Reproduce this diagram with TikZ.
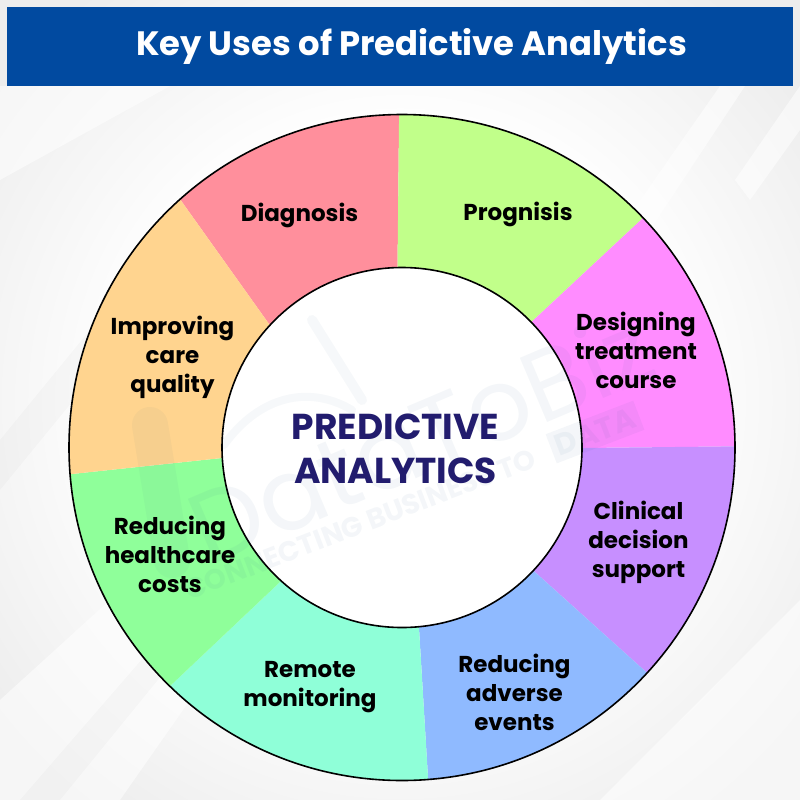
\documentclass[tikz,border=0pt]{standalone}
\usepackage{fontspec}
\setmainfont{Poppins}
\usetikzlibrary{calc}
\definecolor{banner}{HTML}{014AA0}
\definecolor{navy}{HTML}{221C6E}
\definecolor{sPink}{HTML}{FF8F9C}
\definecolor{sLime}{HTML}{C1FF8A}
\definecolor{sMag}{HTML}{FF8CFF}
\definecolor{sPur}{HTML}{C78FFF}
\definecolor{sBlue}{HTML}{8FBAFF}
\definecolor{sAqua}{HTML}{8FFFD8}
\definecolor{sGreen}{HTML}{8FFF9A}
\definecolor{sOrange}{HTML}{FFD48F}
\definecolor{bgGray}{HTML}{EDEDED}
\definecolor{markBlue}{HTML}{2A5A8A}
\pgfdeclareradialshading{softbg}{\pgfpoint{0bp}{0bp}}{color(0bp)=(white); color(17bp)=(white); color(32bp)=(bgGray); color(50bp)=(bgGray)}
\tikzset{
  seglabel/.style={font=\fontsize{23}{29}\selectfont\bfseries,align=center,text=black,inner sep=0pt},
  lightstripe/.style={fill=white,opacity=.55},
  darkstripe/.style={fill=black,opacity=.018},
  mark text/.style={text=markBlue,opacity=.05,inner sep=0pt,rotate=21},
  mark shape/.style={draw=markBlue,opacity=.04,line cap=round},
}
% colour, angle A, angle B, inner point A, inner point B
\newcommand{\seg}[5]{\fill[#1] (#4) -- ($(402,447.5)+(#2:333 and -333)$) arc[start angle=-#2,end angle=-#3,radius=333] -- (#5) -- (402,447.5) -- cycle;}
\begin{document}
\begin{tikzpicture}[x=1pt,y=-1pt]
\useasboundingbox (0,0) rectangle (800,800);
% background
\fill[white] (0,0) rectangle (800,800);
\shade[shading=softbg] (0,0) rectangle (800,800);
\fill[darkstripe] (0,490) -- (0,440) -- (90,330) -- (90,380) -- cycle;
\fill[lightstripe] (0,180) -- (0,86) -- (170,86) -- cycle;
\fill[lightstripe] (720,86) -- (745,86) -- (650,230) -- (630,215) -- cycle;
\fill[lightstripe] (800,86) -- (800,130) -- (750,200) -- (735,180) -- cycle;
\fill[lightstripe] (0,800) -- (0,700) -- (110,600) -- (190,700) -- (120,800) -- cycle;
\fill[lightstripe] (800,600) -- (800,800) -- (600,800) -- cycle;
\fill[darkstripe] (20,800) -- (150,650) -- (170,665) -- (60,800) -- cycle;
% banner
\fill[banner] (7,7) rectangle (793,86);
\node[inner sep=0pt,text=white,font=\fontsize{33.8}{40}\selectfont\bfseries] (title) at (411.5,46) {Key Uses of Predictive Analytics};
% ring
\seg{sPink}{131.8}{90.5}{269,324}{397.5,268}
\seg{sLime}{90.5}{43.6}{397.5,268}{532,321.5}
\seg{sMag}{43.6}{0.2}{532,321.5}{583,448}
\seg{sPur}{0.2}{-42.6}{583,448}{536,573}
\seg{sBlue}{-42.6}{-85.5}{536,573}{419,628}
\seg{sAqua}{-85.5}{-134.2}{419,628}{279,583}
\seg{sGreen}{-134.2}{-175.4}{279,583}{222,458}
\seg{sOrange}{-175.4}{-228.2}{222,458}{269,324}
\draw[black,line width=1.6pt] (402,447.5) circle[radius=333];
\fill[white] (402,447.5) circle[radius=180];
\draw[black,line width=1.6pt] (402,447.5) circle[radius=180];
% watermark
\draw[mark shape,line width=36pt] (150,425) -- (172,560);
\draw[mark shape,line width=8pt] (224,445) .. controls (260,395) and (310,385) .. (352,410);
\draw[mark shape,line width=10pt] (312,320) -- (362,400);
\node[mark text,rotate=2,font=\fontsize{100}{100}\selectfont] (wm1) at (420,436) {DataToBiz};
\node[mark text,font=\fontsize{28}{28}\selectfont\bfseries] (wm2) at (360,524) {CONNECTING BUSINESS TO};
\node[mark text,font=\fontsize{30}{30}\selectfont\bfseries,fill=markBlue,fill opacity=.05,inner sep=5pt] (wm3) at (595,432) {DATA};
% labels
\node[seglabel] (diag) at (299.5,215) {Diagnosis};
\node[seglabel] (prog) at (518,214) {Prognisis};
\node[seglabel] (design) at (636,350) {Designing\\treatment\\course};
\node[seglabel] (clin) at (638.5,542) {Clinical\\decision\\support};
\node[seglabel] (adv) at (514.5,692) {Reducing\\adverse\\events};
\node[seglabel] (remote) at (310,687) {Remote\\monitoring};
\node[seglabel] (cost) at (170,554) {Reducing\\healthcare\\costs};
\node[seglabel] (care) at (172.5,357.5) {Improving\\care\\quality};
\node[inner sep=0pt,align=center,text=navy,font=\fontsize{36}{44}\selectfont\bfseries] (center) at (395.5,449) {PREDICTIVE\\ANALYTICS};
\end{tikzpicture}
\end{document}
